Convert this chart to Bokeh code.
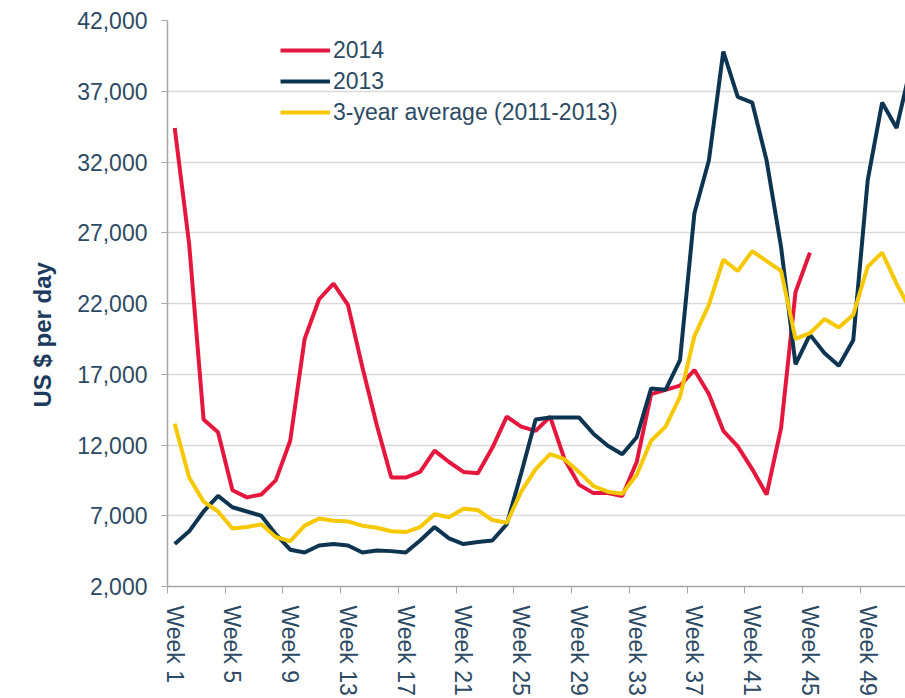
from bokeh.plotting import figure
from bokeh.models import Range1d, FixedTicker, Legend, LegendItem, NumeralTickFormatter, Title
from bokeh.embed import file_html
from bokeh.resources import INLINE

weeks = list(range(1, 53))

rates_2014 = [34400, 26200, 13800, 12900, 8800, 8300, 8500, 9500, 12300, 19500,
              22300, 23400, 21900, 17500, 13400, 9700, 9700, 10100, 11600, 10800,
              10100, 10000, 11800, 14000, 13300, 13000, 14000, 11000, 9200, 8600,
              8600, 8400, 10800, 15600, 15900, 16200, 17300, 15600, 13000, 11900,
              10300, 8500, 13200, 22800, 25600]

rates_2013 = [5000, 5900, 7300, 8400, 7600, 7300, 7000, 5700, 4600, 4400,
              4900, 5000, 4900, 4400, 4550, 4500, 4400, 5250, 6200, 5400,
              5000, 5150, 5250, 6400, 10000, 13800, 13950, 13950, 13950, 12800,
              11950, 11350, 12550, 16000, 15900, 18000, 28400, 32100, 39800, 36600,
              36200, 32100, 26000, 17700, 19800, 18500, 17600, 19400, 30700, 36200,
              34400, 38800]

rates_avg = [13500, 9700, 8000, 7300, 6100, 6200, 6400, 5500, 5200, 6300,
             6800, 6650, 6600, 6300, 6150, 5900, 5850, 6200, 7100, 6900,
             7500, 7400, 6700, 6500, 8700, 10300, 11350, 11000, 10100, 9100,
             8700, 8550, 9900, 12300, 13300, 15400, 19700, 21900, 25100, 24300,
             25700, 25000, 24300, 19500, 19900, 20900, 20300, 21200, 24600, 25600,
             23400, 21500]

series_names = ["2014", "2013", "3-year average (2011-2013)"]
y_title = "US $ per day"
y_ticks = [2000, 7000, 12000, 17000, 22000, 27000, 32000, 37000, 42000]
label_weeks = list(range(1, 53, 4))
tick_labels = {w: f"Week {w}" for w in label_weeks}

RED = "#e5173f"
NAVY = "#0d3552"
YELLOW = "#f5c800"
TEXT = "#2c4a63"
FONT = "Liberation Sans"

p = figure(width=905, height=698, output_backend="svg", toolbar_location=None,
           x_range=Range1d(0.5, 51.62), y_range=Range1d(2000, 42000),
           min_border_left=167, min_border_right=0, min_border_top=20,
           min_border_bottom=110)
p.outline_line_color = None
p.background_fill_color = "white"
p.border_fill_color = "white"

r1 = p.line(weeks[:len(rates_2014)], rates_2014, color=RED, line_width=4)
r2 = p.line(weeks, rates_2013, color=NAVY, line_width=4)
r3 = p.line(weeks, rates_avg, color=YELLOW, line_width=4)

# x axis
p.xaxis.ticker = FixedTicker(ticks=label_weeks,
                             minor_ticks=[w - 0.5 for w in label_weeks])
p.xaxis.major_label_overrides = tick_labels
p.xaxis.major_label_orientation = "vertical"
p.xaxis.major_tick_out = 0
p.xaxis.major_tick_in = 0
p.xaxis.minor_tick_out = 7
p.xaxis.minor_tick_in = 0
p.xaxis.minor_tick_line_color = "#a6a6a6"
p.xaxis.axis_line_color = "#a6a6a6"
p.xaxis.axis_line_width = 1.5
p.xaxis.major_label_standoff = 12
p.xaxis.major_label_text_font = FONT
p.xaxis.major_label_text_font_size = "23px"
p.xaxis.major_label_text_color = TEXT
p.xgrid.grid_line_color = None

# y axis
p.yaxis.ticker = FixedTicker(ticks=y_ticks)
p.yaxis.formatter = NumeralTickFormatter(format="0,0")
p.yaxis.major_tick_out = 6
p.yaxis.major_tick_in = 0
p.yaxis.minor_tick_line_color = None
p.yaxis.major_tick_line_color = "#a6a6a6"
p.yaxis.axis_line_color = "#a6a6a6"
p.yaxis.axis_line_width = 1.5
p.yaxis.major_label_standoff = 14
p.yaxis.major_label_text_font = FONT
p.yaxis.major_label_text_font_size = "23px"
p.yaxis.major_label_text_color = TEXT
p.ygrid.ticker = FixedTicker(ticks=y_ticks)
p.ygrid.grid_line_color = "#d9d9d9"
p.ygrid.grid_line_width = 1.5

ytitle = Title(text=y_title, align="left", offset=179, standoff=34,
               vertical_align="top",
               text_font=FONT, text_font_style="bold", text_font_size="24px",
               text_color="#1c3b5e")
p.add_layout(ytitle, "left")

legend = Legend(items=[LegendItem(label=series_names[0], renderers=[r1]),
                       LegendItem(label=series_names[1], renderers=[r2]),
                       LegendItem(label=series_names[2], renderers=[r3])],
                location=(113, 460), orientation="vertical")
legend.padding = 0
legend.margin = 0
legend.spacing = 3
legend.glyph_width = 50
legend.glyph_height = 28
legend.label_height = 28
legend.label_standoff = 3
legend.border_line_alpha = 0
legend.background_fill_alpha = 0
legend.label_text_font = FONT
legend.label_text_font_size = "23px"
legend.label_text_color = TEXT
p.add_layout(legend, "center")

open("out.html", "w").write(file_html(p, INLINE))
